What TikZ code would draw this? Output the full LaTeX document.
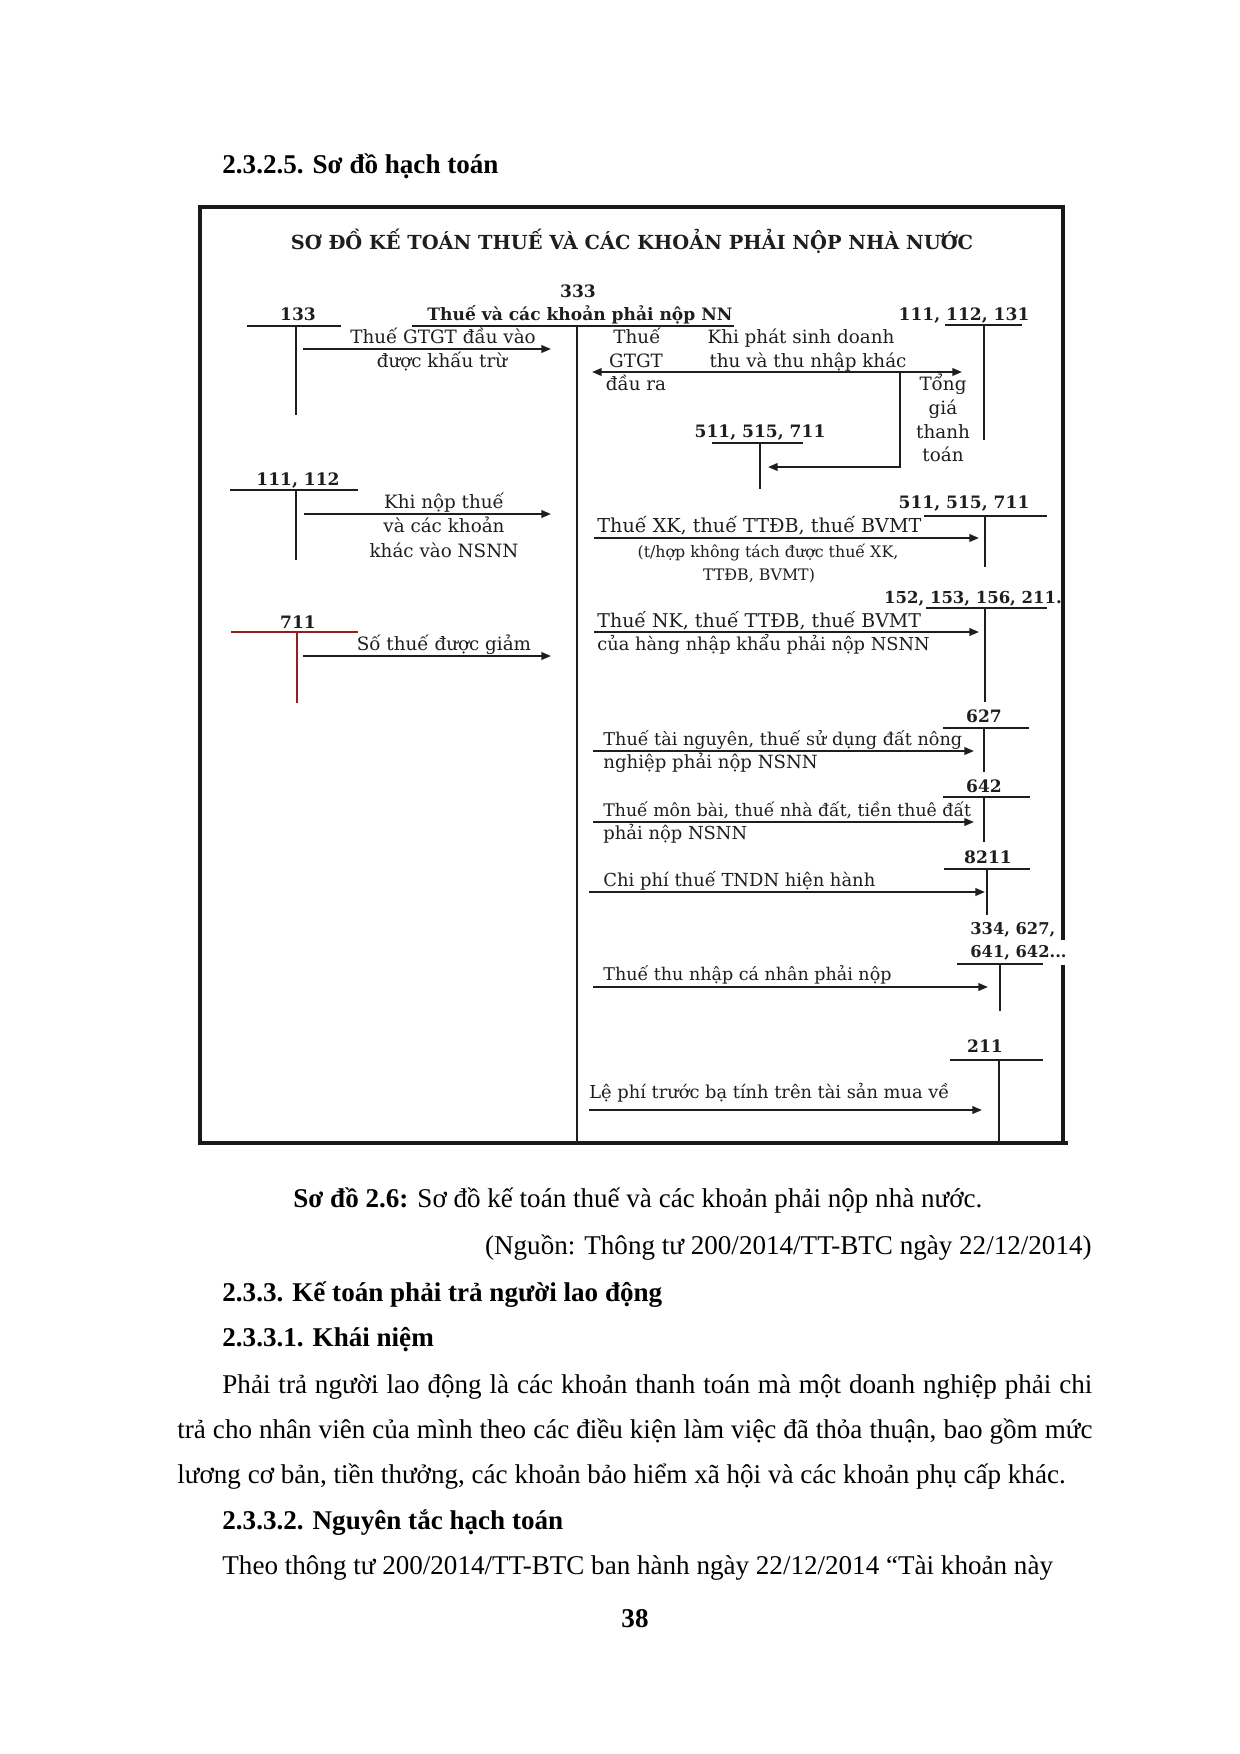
\documentclass[tikz,border=0pt]{standalone}
\usepackage{fontspec}
\setmainfont{Liberation Serif}
\newfontfamily\djv{DejaVu Serif}
\usetikzlibrary{arrows.meta}
\definecolor{inkc}{RGB}{30,30,30}
\definecolor{redc}{RGB}{150,30,30}
\newcommand{\djs}[1]{\djv\fontsize{#1}{10pt}\selectfont}
\begin{document}
\begin{tikzpicture}[x=0.48pt,y=-0.48pt,
  tline/.style={line width=1pt, draw=inkc},
  arr/.style={line width=0.95pt, draw=inkc, -{Triangle[length=4.6pt,width=3.6pt]}},
  darr/.style={line width=0.95pt, draw=inkc, {Triangle[length=4.6pt,width=3.6pt]}-{Triangle[length=4.6pt,width=3.6pt]}},
  boxframe/.style={line width=2pt, draw=black!90},
  midline/.style={line width=1.4pt, draw=inkc},
  lbl/.style={font=\djs{8.8pt}, inner sep=0pt, anchor=base, text=inkc},
  lblw/.style={lbl, anchor=base west},
  small/.style={font=\djs{7.6pt}, inner sep=0pt, anchor=base, text=inkc},
  num/.style={font=\djv\bfseries\fontsize{8.2pt}{10pt}\selectfont, inner sep=0pt, anchor=base, text=inkc},
  numw/.style={num, anchor=base west},
  ttl/.style={font=\djv\bfseries\fontsize{9.3pt}{11pt}\selectfont, inner sep=0pt, anchor=base, text=inkc},
  body/.style={font=\fontsize{13pt}{16pt}\selectfont, inner sep=0pt, anchor=base west},
  bodyb/.style={font=\bfseries\fontsize{13pt}{16pt}\selectfont, inner sep=0pt, anchor=base west}
]
\fill[white] (0,0) rectangle (1240,1754);
\useasboundingbox (0,0) rectangle (1240,1754);

% ---------- heading ----------
\node[bodyb] (h1) at (222,173) {2.3.2.5. Sơ đồ hạch toán};

% ---------- frame ----------
\coordinate (fTL) at (200,207);
\coordinate (fTR) at (1063,207);
\coordinate (fRg1) at (1063,940);
\coordinate (fRg2) at (1063,965);
\coordinate (fBR) at (1068,1143);
\coordinate (fBRv) at (1063,1143);
\coordinate (fBL) at (198,1143);
\coordinate (fBLv) at (200,1143);
\draw[boxframe] (fBLv) -- (fTL) -- (fTR) -- (fRg1);
\draw[boxframe] (fRg2) -- (fBRv);
\draw[boxframe] (fBL) -- (fBR);

\node[ttl] (title) at (632,249) {SƠ ĐỒ KẾ TOÁN THUẾ VÀ CÁC KHOẢN PHẢI NỘP NHÀ NƯỚC};

% ---------- 333 central account ----------
\node[num] (n333) at (578,297) {333};
\node[num] (n333t) at (580,320) {Thuế và các khoản phải nộp NN};
\coordinate (a333l) at (412,326);
\coordinate (a333r) at (734,326);
\coordinate (a333t) at (577,326);
\coordinate (a333b) at (577,1143);
\draw[tline] (a333l) -- (a333r);
\draw[midline] (a333t) -- (a333b);

% ---------- 133 ----------
\node[num] (n133) at (298,320) {133};
\coordinate (a133l) at (247,326);
\coordinate (a133r) at (341,326);
\coordinate (a133t) at (296,326);
\coordinate (a133b) at (296,415);
\draw[tline] (a133l) -- (a133r);
\draw[tline] (a133t) -- (a133b);
\coordinate (p1s) at (303,349);
\coordinate (p1e) at (551,349);
\draw[arr] (p1s) -- (p1e);
\node[lbl] (t1a) at (443,343) {Thuế GTGT đầu vào};
\node[lbl] (t1b) at (442,367) {được khấu trừ};

% ---------- 111,112,131 ----------
\node[num] (n111a) at (964,320) {111, 112, 131};
\coordinate (a111l) at (945,325);
\coordinate (a111r) at (1022,325);
\coordinate (a111t) at (984,325);
\coordinate (a111b) at (984,440);
\draw[tline] (a111l) -- (a111r);
\draw[tline] (a111t) -- (a111b);
\coordinate (p2s) at (592,372);
\coordinate (p2e) at (962,372);
\draw[darr] (p2s) -- (p2e);
\node[lbl] (t2a) at (637,343) {Thuế};
\node[lbl] (t2b) at (636,367) {GTGT};
\node[lbl] (t2c) at (636,390) {đầu ra};
\node[lbl] (t2d) at (801,343) {Khi phát sinh doanh};
\node[lbl] (t2e) at (808,367) {thu và thu nhập khác};
\node[lbl] (t2f) at (943,390) {Tổng};
\node[lbl] (t2g) at (943,414) {giá};
\node[lbl] (t2h) at (943,438) {thanh};
\node[lbl] (t2i) at (943,461) {toán};

% ---------- 511,515,711 (upper) ----------
\node[num] (n511a) at (760,437) {511, 515, 711};
\coordinate (a511l) at (712,443);
\coordinate (a511r) at (803,443);
\coordinate (a511t) at (760,443);
\coordinate (a511b) at (760,489);
\draw[tline] (a511l) -- (a511r);
\draw[tline] (a511t) -- (a511b);
\coordinate (p3s) at (900,372);
\coordinate (p3c) at (900,467);
\coordinate (p3e) at (768,467);
\draw[arr] (p3s) -- (p3c) -- (p3e);

% ---------- 111,112 (left) ----------
\node[num] (n111b) at (298,485) {111, 112};
\coordinate (a112l) at (230,490);
\coordinate (a112r) at (358,490);
\coordinate (a112t) at (296,490);
\coordinate (a112b) at (296,560);
\draw[tline] (a112l) -- (a112r);
\draw[tline] (a112t) -- (a112b);
\coordinate (p4s) at (304,514);
\coordinate (p4e) at (551,514);
\draw[arr] (p4s) -- (p4e);
\node[lbl] (t4a) at (444,508) {Khi nộp thuế};
\node[lbl] (t4b) at (444,532) {và các khoản};
\node[lbl] (t4c) at (444,557) {khác vào NSNN};

% ---------- 711 (red) ----------
\node[num] (n711) at (298,628) {711};
\coordinate (a711l) at (231,632);
\coordinate (a711r) at (358,632);
\coordinate (a711t) at (297,632);
\coordinate (a711b) at (297,703);
\draw[line width=1pt, draw=redc] (a711l) -- (a711r);
\draw[line width=1pt, draw=redc] (a711t) -- (a711b);
\coordinate (p6s) at (303,656);
\coordinate (p6e) at (551,656);
\draw[arr] (p6s) -- (p6e);
\node[lbl] (t6a) at (444,650) {Số thuế được giảm};

% ---------- 511,515,711 (lower) ----------
\node[num] (n511b) at (964,508) {511, 515, 711};
\coordinate (b511l) at (924,516);
\coordinate (b511r) at (1047,516);
\coordinate (b511t) at (985,516);
\coordinate (b511b) at (985,567);
\draw[tline] (b511l) -- (b511r);
\draw[tline] (b511t) -- (b511b);
\coordinate (p5s) at (594,538);
\coordinate (p5e) at (979,538);
\draw[arr] (p5s) -- (p5e);
\node[lblw, font=\djs{9.2pt}] (t5a) at (597,532) {Thuế XK, thuế TTĐB, thuế BVMT};
\node[small] (t5b) at (768,557) {(t/hợp không tách được thuế XK,};
\node[small] (t5c) at (759,580) {TTĐB, BVMT)};

% ---------- 152,153,156,211 ----------
\node[num, font=\djv\bfseries\fontsize{7.9pt}{10pt}\selectfont] (n152) at (973,603) {152, 153, 156, 211.};
\coordinate (a152l) at (926,608);
\coordinate (a152r) at (1047,608);
\coordinate (a152t) at (985,608);
\coordinate (a152b) at (985,702);
\draw[tline] (a152l) -- (a152r);
\draw[tline] (a152t) -- (a152b);
\coordinate (p7s) at (594,632);
\coordinate (p7e) at (979,632);
\draw[arr] (p7s) -- (p7e);
\node[lblw, font=\djs{9.1pt}] (t7a) at (597,627) {Thuế NK, thuế TTĐB, thuế BVMT};
\node[lblw, font=\djs{8.55pt}] (t7b) at (597,650) {của hàng nhập khẩu phải nộp NSNN};

% ---------- 627 ----------
\node[num] (n627) at (984,722) {627};
\coordinate (a627l) at (943,728);
\coordinate (a627r) at (1029,728);
\coordinate (a627t) at (984,728);
\coordinate (a627b) at (984,772);
\draw[tline] (a627l) -- (a627r);
\draw[tline] (a627t) -- (a627b);
\coordinate (p8s) at (593,751);
\coordinate (p8e) at (974,751);
\draw[arr] (p8s) -- (p8e);
\node[lblw, font=\djs{8.45pt}] (t8a) at (603,745) {Thuế tài nguyên, thuế sử dụng đất nông};
\node[lblw, font=\djs{8.7pt}] (t8b) at (603,768) {nghiệp phải nộp NSNN};

% ---------- 642 ----------
\node[num] (n642) at (984,792) {642};
\coordinate (a642l) at (943,797);
\coordinate (a642r) at (1030,797);
\coordinate (a642t) at (984,797);
\coordinate (a642b) at (984,842);
\draw[tline] (a642l) -- (a642r);
\draw[tline] (a642t) -- (a642b);
\coordinate (p9s) at (593,822);
\coordinate (p9e) at (974,822);
\draw[arr] (p9s) -- (p9e);
\node[lblw, font=\djs{8.3pt}] (t9a) at (603,816) {Thuế môn bài, thuế nhà đất, tiền thuê đất};
\node[lblw, font=\djs{8.6pt}] (t9b) at (603,839) {phải nộp NSNN};

% ---------- 8211 ----------
\node[num] (n8211) at (988,863) {8211};
\coordinate (a821l) at (944,869);
\coordinate (a821r) at (1030,869);
\coordinate (a821t) at (987,869);
\coordinate (a821b) at (987,915);
\draw[tline] (a821l) -- (a821r);
\draw[tline] (a821t) -- (a821b);
\coordinate (p10s) at (589,892);
\coordinate (p10e) at (985,892);
\draw[arr] (p10s) -- (p10e);
\node[lblw, font=\djs{8.6pt}] (t10a) at (603,886) {Chi phí thuế TNDN hiện hành};

% ---------- 334,627,641,642 ----------
\node[numw, font=\djv\bfseries\fontsize{7.8pt}{10pt}\selectfont] (n334a) at (970,934) {334, 627,};
\node[numw, font=\djv\bfseries\fontsize{7.8pt}{10pt}\selectfont] (n334b) at (970,957) {641, 642...};
\coordinate (a334l) at (957,964);
\coordinate (a334r) at (1043,964);
\coordinate (a334t) at (1000,964);
\coordinate (a334b) at (1000,1011);
\draw[tline] (a334l) -- (a334r);
\draw[tline] (a334t) -- (a334b);
\coordinate (p11s) at (593,987);
\coordinate (p11e) at (988,987);
\draw[arr] (p11s) -- (p11e);
\node[lblw, font=\djs{8.4pt}] (t11a) at (603,980) {Thuế thu nhập cá nhân phải nộp};

% ---------- 211 ----------
\node[num] (n211) at (985,1052) {211};
\coordinate (a211l) at (950,1060);
\coordinate (a211r) at (1043,1060);
\coordinate (a211t) at (999,1060);
\coordinate (a211b) at (999,1143);
\draw[tline] (a211l) -- (a211r);
\draw[tline] (a211t) -- (a211b);
\coordinate (p12s) at (589,1110);
\coordinate (p12e) at (982,1110);
\draw[arr] (p12s) -- (p12e);
\node[lblw, font=\djs{8.55pt}] (t12a) at (589,1098) {Lệ phí trước bạ tính trên tài sản mua về};

% ---------- text below ----------
\node[body] (cap) at (293,1207) {\makebox[330.7pt][s]{\textbf{Sơ đồ 2.6:} Sơ đồ kế toán thuế và các khoản phải nộp nhà nước.}};
\node[body, anchor=base east] (src) at (1092,1254) {(Nguồn: Thông tư 200/2014/TT-BTC ngày 22/12/2014)};
\node[bodyb] (h2) at (222,1301) {2.3.3. Kế toán phải trả người lao động};
\node[bodyb] (h3) at (222,1346) {2.3.3.1. Khái niệm};
\node[body] (l1) at (222,1393) {\makebox[417.6pt][s]{Phải trả người lao động là các khoản thanh toán mà một doanh nghiệp phải chi}};
\node[body] (l2) at (177,1438) {\makebox[439.2pt][s]{trả cho nhân viên của mình theo các điều kiện làm việc đã thỏa thuận, bao gồm mức}};
\node[body] (l3) at (177,1483) {lương cơ bản, tiền thưởng, các khoản bảo hiểm xã hội và các khoản phụ cấp khác.};
\node[bodyb] (h4) at (222,1529) {2.3.3.2. Nguyên tắc hạch toán};
\node[body] (l4) at (222,1574) {Theo thông tư 200/2014/TT-BTC ban hành ngày 22/12/2014 “Tài khoản này};
\node[bodyb, anchor=base] (pg) at (635,1627) {38};
\end{tikzpicture}
\end{document}
